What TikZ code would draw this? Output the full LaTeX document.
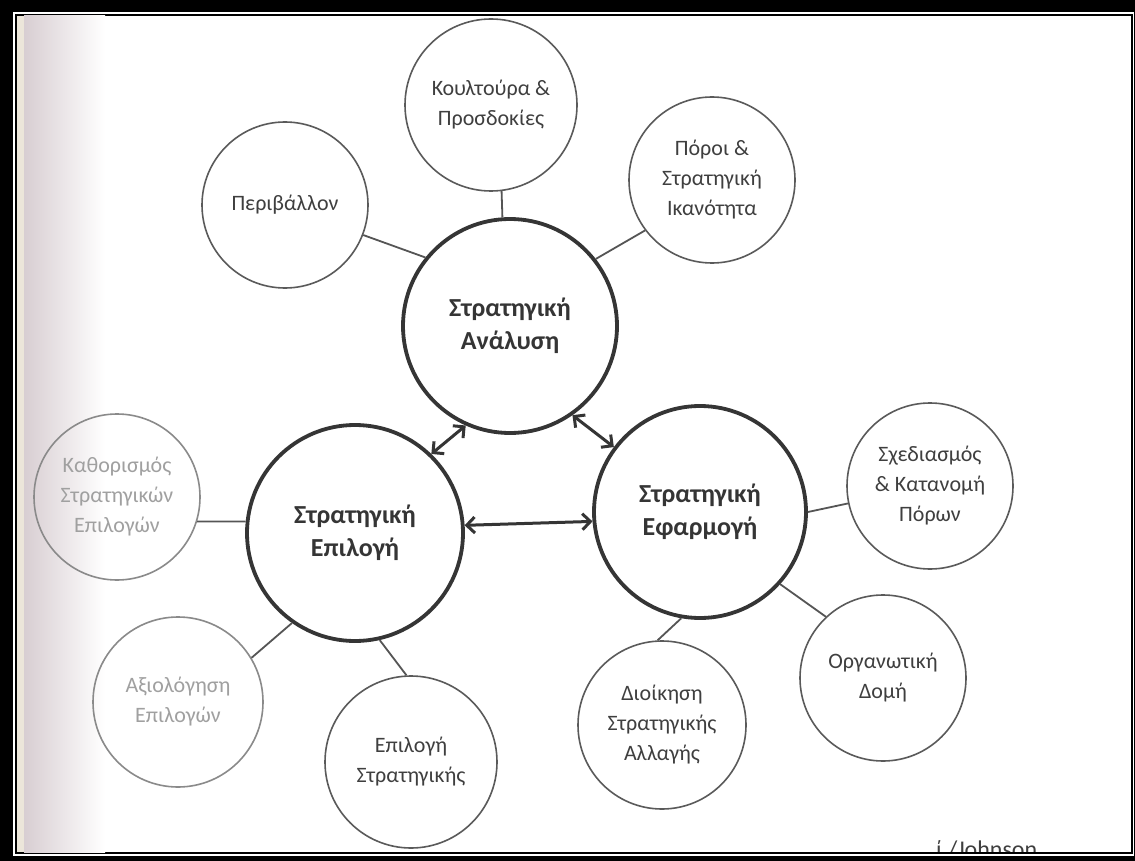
\documentclass[tikz,border=0pt]{standalone}
\usepackage{fontspec}
\setmainfont{Carlito}
\usetikzlibrary{arrows.meta}
\definecolor{ink}{HTML}{353535}
\definecolor{leafline}{HTML}{5A5A5A}
\definecolor{leaftext}{HTML}{3F3F3F}
\definecolor{linkc}{HTML}{555555}
\definecolor{fadetext}{HTML}{A0A0A0}
\definecolor{fadeline}{HTML}{8A8A8A}
\definecolor{edgegray}{HTML}{D8CED2}
\definecolor{edgebeige}{HTML}{ECE6DA}
\begin{document}
\begin{tikzpicture}[x=1pt,y=-1pt,
  hub/.style={circle, draw=ink, line width=3.8pt, minimum size=#1, inner sep=0pt,
    align=center, text=ink, font=\fontsize{26}{33}\selectfont\bfseries},
  leaf/.style={circle, draw=leafline, line width=1.6pt, minimum size=#1, inner sep=0pt,
    align=center, text=leaftext, font=\fontsize{22}{30}\selectfont},
  faded/.style={draw=fadeline, text=fadetext},
  link/.style={draw=linkc, line width=1.8pt},
  twoway/.style={draw=ink, line width=3pt,
    {Straight Barb[length=8pt,width=16pt]}-{Straight Barb[length=8pt,width=16pt]}}
]
\useasboundingbox (0,0) rectangle (1135,861);

% double frame round the page
\fill[black] (0,0) rectangle (1135,861);
\fill[white] (13,12) rectangle (1134,856);
\draw[black, line width=2pt] (16,15) rectangle (1132,853);
\fill[white] (17,16) rectangle (1131,852);
\shade[left color=edgegray, right color=white] (24,16) rectangle (105,852);
\fill[edgebeige] (17,16) rectangle (24,852);

% central stages
\node[hub=214pt] (A) at (510,326) {Στρατηγική\\Ανάλυση};
\node[hub=216pt] (C) at (355,533) {Στρατηγική\\Επιλογή};
\node[hub=212pt] (E) at (700,512) {Στρατηγική\\Εφαρμογή};

% analysis topics
\node[leaf=166pt] (P) at (285,205) {Περιβάλλον};
\node[leaf=172pt] (Q) at (491,105) {Κουλτούρα \&\\Προσδοκίες};
\node[leaf=166pt] (R) at (712,180) {Πόροι \&\\Στρατηγική\\Ικανότητα};

% choice topics
\node[leaf=166pt, faded] (K) at (117,497) {Καθορισμός\\Στρατηγικών\\Επιλογών};
\node[leaf=170pt, faded] (X) at (178,702) {Αξιολόγηση\\Επιλογών};
\node[leaf=172pt] (S) at (411,762) {Επιλογή\\Στρατηγικής};

% implementation topics
\node[leaf=168pt] (D) at (662,725) {Διοίκηση\\Στρατηγικής\\Αλλαγής};
\node[leaf=166pt] (O) at (883,678) {Οργανωτική\\Δομή};
\node[leaf=166pt] (G) at (930,486) {Σχεδιασμός\\\& Κατανομή\\Πόρων};

% spokes
\draw[link] (P.-21) -- (A.141);
\draw[link] (Q.-83) -- (A.94);
\draw[link] (R.217) -- (A.38);
\draw[link] (K.-17) -- (C.174);
\draw[link] (X.31) -- (C.235);
\draw[link] (S.93) -- (C.-77);
\draw[link] (G.192) -- (E.0);
\draw[link] (O.133) -- (E.-42);
\draw[link] (D.93) -- (E.-100);

% links between the stages
\draw[twoway] (C.46) -- (A.246);
\draw[twoway] (A.-55) -- (E.143);
\draw[twoway] (C.4) -- (E.185);

% source line, cut by the frame
\begin{scope}
  \clip (17,16) rectangle (1131,851);
  \node[anchor=base west, text=leaftext, font=\fontsize{24}{24}\selectfont, inner sep=0pt]
    (src) at (936,857) {ί /Johnson};
\end{scope}
\end{tikzpicture}
\end{document}
